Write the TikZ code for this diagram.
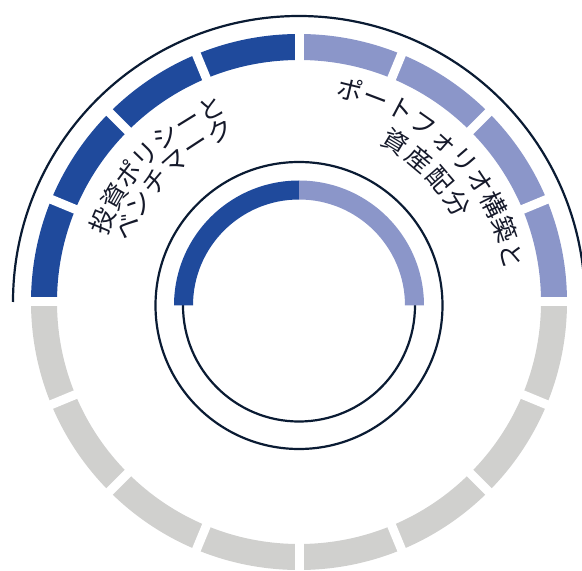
\documentclass[tikz,border=0pt]{standalone}
\usepackage{fontspec}
\newfontfamily\jp{Noto Sans CJK JP}
\definecolor{dblue}{HTML}{1F4A9C}
\definecolor{lblue}{HTML}{8B96C9}
\definecolor{lgray}{HTML}{D0D0CE}
\definecolor{navy}{HTML}{0A1B33}
\definecolor{txt}{HTML}{15192A}
\tikzset{
  thinline/.style={draw=navy,line width=2.2},
  gapline/.style={white,line width=9},
  jptxt/.style={inner sep=0pt,text=txt,font=\jp\fontsize{25.5}{25.5}\selectfont,text height=0.88em,text depth=0.12em,anchor=center}
}
\begin{document}
\begin{tikzpicture}[x=1pt,y=1pt]
\useasboundingbox (0,0) rectangle (582,571);
\coordinate (O) at (299,269);
\coordinate (I) at (299,265.5);
% outer thin arc
\draw[thinline] ([shift={(O)}]180:286) arc[start angle=180,end angle=0,radius=286];
% outer segmented ring
\fill[dblue] ([shift={(O)}]90:268) arc[start angle=90,end angle=180,radius=268] -- ([shift={(O)}]180:242) arc[start angle=180,end angle=90,radius=242] -- cycle;
\fill[lblue] ([shift={(O)}]0:268) arc[start angle=0,end angle=90,radius=268] -- ([shift={(O)}]90:242) arc[start angle=90,end angle=0,radius=242] -- cycle;
\fill[lgray] ([shift={(O)}]180:268) arc[start angle=180,end angle=360,radius=268] -- ([shift={(O)}]360:242) arc[start angle=360,end angle=180,radius=242] -- cycle;
\foreach \a in {0,22.5,...,337.5}
  \draw[gapline] ([shift={(O)}]\a:234) -- ([shift={(O)}]\a:276);
% inner circles
\draw[thinline] (I) circle[radius=143.5];
\draw[thinline] (I) circle[radius=116];
\fill[dblue] ([shift={(I)}]90:125) arc[start angle=90,end angle=180,radius=125] -- ([shift={(I)}]180:106) arc[start angle=180,end angle=90,radius=106] -- cycle;
\fill[lblue] ([shift={(I)}]0:125) arc[start angle=0,end angle=90,radius=125] -- ([shift={(I)}]90:106) arc[start angle=90,end angle=0,radius=106] -- cycle;
% left text
\foreach \c [count=\i, evaluate=\i as \ang using 157.5-(\i-1)*7.16] in {投,資,ポ,リ,シ,ー,と}
  \node[jptxt,rotate=\ang-90] (la\i) at ([shift={(O)}]\ang:207) {\c};
\foreach \c [count=\i, evaluate=\i as \ang using 156.6-(\i-1)*8.34] in {ベ,ン,チ,マ,ー,ク}
  \node[jptxt,rotate=\ang-90] (lb\i) at ([shift={(O)}]\ang:182) {\c};
% right text
\foreach \c [count=\i, evaluate=\i as \ang using 76.4-(\i-1)*7.13] in {ポ,ー,ト,フ,ォ,リ,オ,構,築,と}
  \node[jptxt,rotate=\ang-90] (ra\i) at ([shift={(O)}]\ang:212) {\c};
\foreach \c [count=\i, evaluate=\i as \ang using 59-(\i-1)*9.07] in {資,産,配,分}
  \node[jptxt,rotate=\ang-90] (rb\i) at ([shift={(O)}]\ang:181) {\c};
\end{tikzpicture}
\end{document}
